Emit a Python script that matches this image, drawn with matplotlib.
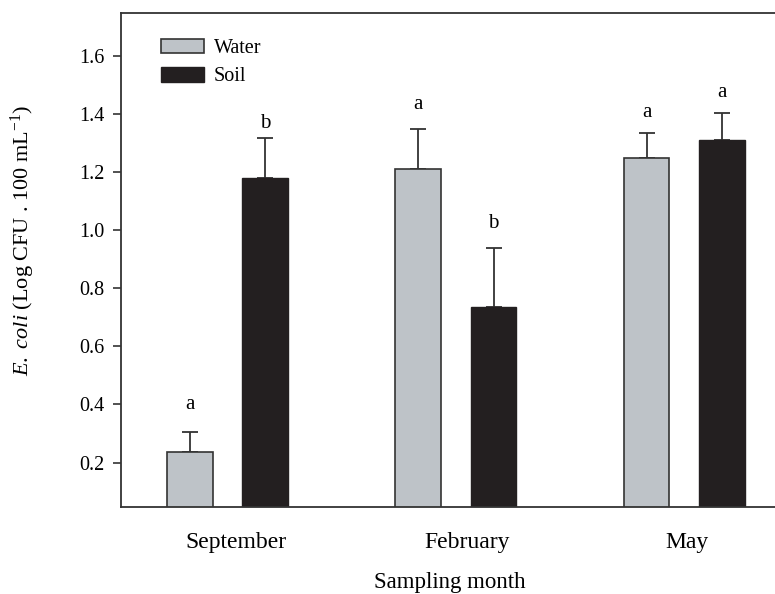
import numpy as np
import matplotlib.pyplot as plt
from matplotlib.patches import Patch

plt.rcParams['font.family'] = ['Liberation Serif', 'DejaVu Serif']
plt.rcParams['mathtext.fontset'] = 'custom'
plt.rcParams['mathtext.rm'] = 'Liberation Serif'
plt.rcParams['mathtext.it'] = 'Liberation Serif:italic'

months = ["September", "February", "May"]
water = [0.238, 1.211, 1.250]
water_err = [0.067, 0.138, 0.086]
soil = [1.179, 0.737, 1.311]
soil_err = [0.138, 0.201, 0.092]
water_letters = ["a", "a", "a"]
soil_letters = ["b", "b", "a"]
water_letter_y = [0.40, 1.432, 1.405]
soil_letter_y = [1.368, 1.022, 1.475]

WATER_C = "#bec3c8"
SOIL_C = "#231f20"
EDGE = "#333333"

fig = plt.figure(figsize=(7.75, 5.94), dpi=100)
ax = fig.add_axes([0.156, 0.1465, 0.849, 0.8315])

x = np.arange(len(months))
w = 0.2
off = 0.165
ax.bar(x - off, water, w, color=WATER_C, edgecolor=EDGE, linewidth=1.2, zorder=2)
ax.bar(x + off, soil, w, color=SOIL_C, edgecolor=SOIL_C, linewidth=1.0, zorder=2)
ekw = dict(fmt="none", ecolor=EDGE, elinewidth=1.3, capsize=5.5, capthick=1.3, zorder=1)
ax.errorbar(x - off, water, yerr=[np.zeros(3), water_err], **ekw)
ax.errorbar(x + off, soil, yerr=[np.zeros(3), soil_err], **ekw)

for i in range(len(months)):
    ax.text(x[i] - off, water_letter_y[i], water_letters[i], ha="center", va="center", fontsize=15)
    ax.text(x[i] + off, soil_letter_y[i], soil_letters[i], ha="center", va="center", fontsize=15)

ax.set_xlim(-0.467, 2.414)
ax.set_ylim(0.047, 1.748)
ax.set_yticks([0.2, 0.4, 0.6, 0.8, 1.0, 1.2, 1.4, 1.6])
ax.set_yticklabels([f"{v:.1f}" for v in ax.get_yticks()])
ax.set_xticks(x + np.array([0.035, 0.05, 0.01]))
ax.set_xticklabels(months, fontsize=17)
ax.tick_params(axis="x", length=0, pad=18)
ax.tick_params(axis="y", length=6, width=1.2, labelsize=14.5, pad=6, color=EDGE)
for s in ["left", "top", "bottom"]:
    ax.spines[s].set_color(EDGE)
    ax.spines[s].set_linewidth(1.3)
ax.spines["right"].set_visible(False)

ax.set_ylabel(r"$\mathit{E.\ coli}$ (Log CFU . 100 mL$^{-1}$)", fontsize=16)
ax.yaxis.set_label_coords(-0.127, 0.54)
ax.set_xlabel("Sampling month", fontsize=16.5, labelpad=14)

handles = [Patch(facecolor=WATER_C, edgecolor=EDGE, linewidth=1.2),
           Patch(facecolor=SOIL_C, edgecolor=SOIL_C)]
ax.legend(handles, ["Water", "Soil"], loc="upper left", bbox_to_anchor=(0.033, 0.985),
          frameon=False, fontsize=14.5, handlelength=2.15, handleheight=0.75,
          labelspacing=0.45, handletextpad=0.5)

fig.savefig("out.png", dpi=100)
